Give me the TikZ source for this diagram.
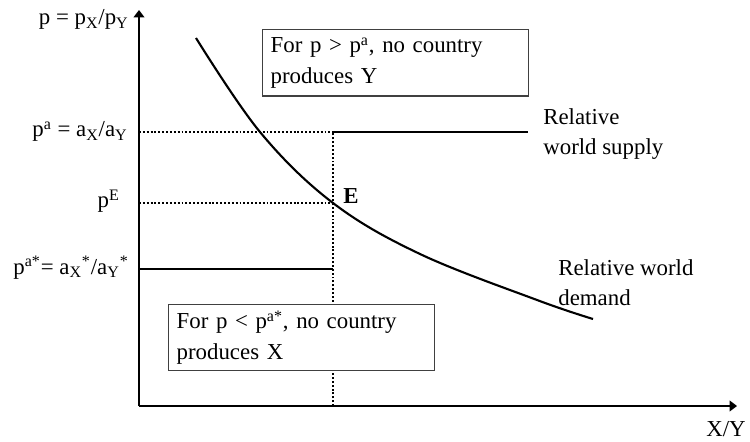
\documentclass[tikz,border=0pt]{standalone}
\usepackage{fontspec}
\setmainfont{Liberation Serif}
\usetikzlibrary{arrows.meta, positioning}

\begin{document}
\begin{tikzpicture}[x=0.02cm, y=-0.02cm, >={Triangle[length=0.15cm, width=0.22cm]},
    every node/.style={font=\fontsize{13}{17.5}\selectfont, inner sep=0pt},
    axis/.style={->, line width=0.75pt},
    supply/.style={line width=1.1pt},
    guide/.style={line width=1.1pt, dash pattern=on 1.1pt off 1.1pt},
    demand/.style={line width=1.2pt},
    infobox/.style={draw=black!75, line width=0.8pt, fill=white, anchor=north west,
        text width=5cm, inner xsep=0.16cm, minimum height=1.33cm, align=left},
    ylabel/.style={anchor=base east},
    curvelabel/.style={anchor=north west, align=left}]

    \useasboundingbox (0,0) rectangle (750,442);

    % axes
    \coordinate (O) at (139,406);
    \coordinate (ytop) at (139,10);
    \coordinate (xend) at (737,406);
    \draw[axis] (O) -- (ytop);
    \draw[axis] (O) -- (xend);
    \node[ylabel] (plabel) at (129,25) {p = p\textsubscript{X}/p\textsubscript{Y}};
    \node[anchor=base west] (xlabel) at (706,436) {X/Y};

    % price levels
    \coordinate (pa) at (139,132);
    \coordinate (pE) at (139,203);
    \coordinate (pastar) at (139,269);
    \coordinate (kinkhi) at (333,132);
    \coordinate (E) at (333,203);
    \coordinate (kinklo) at (333,269);
    \coordinate (kinkbase) at (333,406);
    \coordinate (supplyend) at (528,132);

    \node[ylabel] (palabel) at (128,137) {p\textsuperscript{a} = a\textsubscript{X}/a\textsubscript{Y}};
    \node[ylabel] (pElabel) at (120,208) {p\textsuperscript{E}};
    \node[ylabel] (pastarlabel) at (129,274) {p\textsuperscript{a*}= a\textsubscript{X}\textsuperscript{*}/a\textsubscript{Y}\textsuperscript{*}};

    \draw[guide] (pa) -- (kinkhi);
    \draw[guide] (pE) -- (E);
    \draw[guide] (kinkbase) -- (kinkhi);

    % relative world supply
    \draw[supply] (pastar) -- (kinklo);
    \draw[supply] (kinkhi) -- (supplyend);
    \node[curvelabel] (rslabel) at (543,108) {Relative\\world supply};

    % relative world demand
    \draw[demand] plot[smooth, tension=0.6] coordinates {(196,38) (260,132) (E) (420,254) (537,300) (593,319)};
    \node[curvelabel] (rdlabel) at (558,259) {Relative world\\demand};
    \node[anchor=base west] (Elabel) at (343,204) {\textbf{E}};

    % boxes
    \node[infobox] (boxY) at (262,29) {For p > p\textsuperscript{a}, no country\\produces Y};
    \node[infobox, minimum height=1.32cm] (boxX) at (168,304) {For p < p\textsuperscript{a*}, no country\\produces X};
\end{tikzpicture}
\end{document}
